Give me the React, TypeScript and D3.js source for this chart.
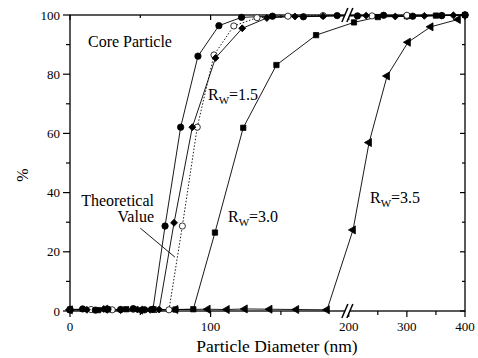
import React, { useEffect, useRef } from 'react'
import * as d3 from 'd3'

// data (x in nm, y in %)
const coreX = [0, 9, 18, 27, 36, 45, 53, 59, 67.6, 78.7, 91, 105.9, 122, 144, 166, 190, 215, 260, 310, 360, 400]
const coreY = [0.4, 0.7, 0.3, 0.6, 0.5, 0.8, 0.4, 0.6, 28.7, 62.1, 86.1, 96.4, 99.2, 99.6, 99.4, 99.8, 99.7, 99.9, 99.6, 99.8, 100]

const rw15X = [0, 12, 24, 36, 48, 57, 63.4, 74, 87, 103.5, 122.5, 140, 160, 180, 230, 280, 330, 380, 400]
const rw15Y = [0.6, 0.4, 0.7, 0.3, 0.5, 0.4, 0.5, 29.8, 62.1, 85.5, 95.5, 99.0, 99.5, 99.6, 99.8, 99.5, 99.7, 99.9, 100]

const theoX = [0, 15, 30, 45, 60, 70.4, 79.9, 90.5, 102.4, 116.5, 133, 155, 180, 240, 300, 360, 400]
const theoY = [0.3, 0.5, 0.4, 0.6, 0.5, 0.4, 28.7, 62.1, 86.5, 96.3, 99.1, 99.6, 99.8, 99.7, 99.9, 99.8, 100]

const rw30X = [0, 20, 40, 60, 75, 87.7, 103.1, 123.2, 146.8, 175, 209, 250, 300, 350, 400]
const rw30Y = [0.5, 0.3, 0.6, 0.4, 0.5, 0.6, 26.5, 61.9, 83.1, 93.2, 97.5, 99.3, 99.6, 99.8, 100]

const rw35X = [0, 25, 50, 75, 98, 111.6, 124.4, 142, 161, 182.8, 207.4, 235, 266, 302, 341, 388]
const rw35Y = [0.4, 0.6, 0.3, 0.5, 0.6, 0.5, 0.7, 0.6, 0.5, 0.4, 27.4, 56.9, 79.4, 90.8, 96, 98.5]

const xTickLabels = [0, 100, 200, 300, 400]
const xMinorTicks = [50, 150, 250, 350]
const yTickLabels = [0, 20, 40, 60, 80, 100]

const FONT = "Liberation Serif, DejaVu Serif, Times New Roman, serif"

const W = 478, H = 358
const left = 70, right = 465, top = 15, bottom = 311

export default function App() {
    const ref = useRef(null)

    useEffect(() => {
        const svg = d3.select(ref.current)
        svg.selectAll('*').remove()

        // broken axis: 0-197 on the left part, 200-400 compressed on the right
        const x = d3.scaleLinear().domain([0, 197, 400]).range([left, 347, right])
        const y = d3.scaleLinear().domain([0, 100]).range([bottom, top])

        const g = svg.append('g').attr('font-family', FONT)

        // frame
        g.append('rect')
            .attr('x', left).attr('y', top)
            .attr('width', right - left).attr('height', bottom - top)
            .attr('fill', 'none').attr('stroke', '#000').attr('stroke-width', 1.3)

        // y ticks (left outward, right inward)
        d3.range(0, 101, 10).forEach(v => {
            const major = v % 20 === 0
            g.append('line')
                .attr('x1', left - (major ? 7 : 4)).attr('x2', left)
                .attr('y1', y(v)).attr('y2', y(v))
                .attr('stroke', '#000').attr('stroke-width', 1.2)
            g.append('line')
                .attr('x1', right - (major ? 5 : 3)).attr('x2', right)
                .attr('y1', y(v)).attr('y2', y(v))
                .attr('stroke', '#000').attr('stroke-width', 1.2)
        })
        yTickLabels.forEach(v => {
            g.append('text')
                .attr('x', left - 10).attr('y', y(v))
                .attr('dy', '0.35em')
                .attr('text-anchor', 'end')
                .attr('font-size', 13)
                .text(v)
        })

        // x ticks (bottom outward, top inward)
        xTickLabels.concat(xMinorTicks).forEach(v => {
            const major = xTickLabels.includes(v)
            g.append('line')
                .attr('x1', x(v)).attr('x2', x(v))
                .attr('y1', bottom).attr('y2', bottom + (major ? 6 : 4))
                .attr('stroke', '#000').attr('stroke-width', 1.2)
            g.append('line')
                .attr('x1', x(v)).attr('x2', x(v))
                .attr('y1', top).attr('y2', top + (major ? 5 : 3))
                .attr('stroke', '#000').attr('stroke-width', 1.2)
        })
        xTickLabels.forEach(v => {
            g.append('text')
                .attr('x', x(v)).attr('y', 331)
                .attr('text-anchor', 'middle')
                .attr('font-size', 13)
                .text(v)
        })

        // series
        const line = d3.line().x(d => x(d[0])).y(d => y(d[1]))
        const zip = (a, b) => a.map((v, i) => [v, b[i]])

        const series = [
            { pts: zip(rw35X, rw35Y), sym: d3.symbolTriangle, size: 28, rot: -90, fill: '#000', dash: null },
            { pts: zip(rw30X, rw30Y), sym: d3.symbolSquare, size: 28, rot: 0, fill: '#000', dash: null },
            { pts: zip(theoX, theoY), sym: d3.symbolCircle, size: 30, rot: 0, fill: '#fff', dash: '1.5,1.8' },
            { pts: zip(rw15X, rw15Y), sym: d3.symbolSquare, size: 24, rot: 45, fill: '#000', dash: null },
            { pts: zip(coreX, coreY), sym: d3.symbolCircle, size: 32, rot: 0, fill: '#000', dash: null },
        ]

        series.forEach(s => {
            g.append('path')
                .attr('d', line(s.pts))
                .attr('fill', 'none')
                .attr('stroke', '#000')
                .attr('stroke-width', 0.9)
                .attr('stroke-dasharray', s.dash)
        })
        series.forEach(s => {
            g.selectAll(null)
                .data(s.pts)
                .enter()
                .append('path')
                .attr('d', d3.symbol().type(s.sym).size(s.size))
                .attr('transform', d => `translate(${x(d[0])},${y(d[1])}) rotate(${s.rot})`)
                .attr('fill', s.fill)
                .attr('stroke', '#000')
                .attr('stroke-width', 0.8)
        })

        // axis break marks
        const bx = x(198.5)
        ;[top, bottom].forEach(yy => {
            g.append('rect')
                .attr('x', bx - 3).attr('y', yy - 3)
                .attr('width', 5).attr('height', 6)
                .attr('fill', '#fff')
            ;[-3, 2].forEach(o => {
                g.append('line')
                    .attr('x1', bx + o - 3).attr('y1', yy + 7)
                    .attr('x2', bx + o + 3).attr('y2', yy - 7)
                    .attr('stroke', '#000').attr('stroke-width', 1.5)
            })
        })

        // annotations
        const txt = (px, py, anchor) => g.append('text')
            .attr('x', px).attr('y', py)
            .attr('text-anchor', anchor)
            .attr('font-size', 16)

        txt(88, 47, 'start').text('Core Particle')
        txt(154, 206, 'end').text('Theoretical')
        txt(154, 222, 'end').text('Value')

        const rw = (px, py, val) => {
            const t = txt(px, py, 'start')
            t.append('tspan').text('R')
            t.append('tspan').attr('dy', 4).attr('font-size', 11).text('W')
            t.append('tspan').attr('dy', -4).text('=' + val)
        }
        rw(208, 100, '1.5')
        rw(228, 222, '3.0')
        rw(370, 203, '3.5')

        g.append('line')
            .attr('x1', x(50)).attr('y1', y(28))
            .attr('x2', x(74.6)).attr('y2', y(18.2))
            .attr('stroke', '#000').attr('stroke-width', 0.9)

        // axis titles
        g.append('text')
            .attr('x', 277).attr('y', 352)
            .attr('text-anchor', 'middle')
            .attr('font-size', 17.5)
            .text('Particle Diameter (nm)')

        g.append('text')
            .attr('transform', 'translate(28,175) rotate(-90)')
            .attr('text-anchor', 'middle')
            .attr('font-size', 16)
            .text('%')
    }, [])

    return (
        <svg ref={ref} width={W} height={H}
            style={{ position: 'absolute', left: 0, top: 0, background: '#fff' }} />
    )
}
